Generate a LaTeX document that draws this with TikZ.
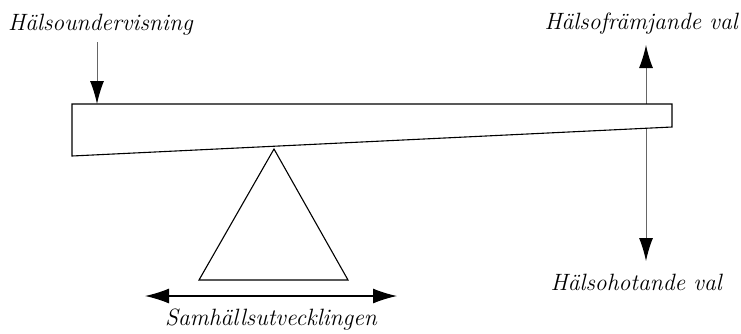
\documentclass[tikz,border=0pt]{standalone}
\usetikzlibrary{arrows.meta}
\begin{document}
\begin{tikzpicture}[x=1pt,y=-1pt,
  lbl/.style={font=\fontsize{23.6}{28}\selectfont\itshape, inner sep=0pt},
  garrow/.style={draw=black!60, line width=1pt, -{Latex[length=23pt,width=14pt,black]}},
  barrow/.style={draw=black, line width=1.2pt, {Latex[length=24pt,width=15pt]}-{Latex[length=24pt,width=15pt]}},
  outline/.style={draw=black, line width=1.1pt, fill=white}]
\useasboundingbox (0,0) rectangle (741,333);
% text labels
\node[lbl, anchor=base west] (teach) at (8,30) {Hälsoundervisning};
\node[lbl, anchor=base east] (good) at (738,29) {Hälsofrämjande val};
\node[lbl, anchor=base east] (bad) at (722,290) {Hälsohotande val};
\node[lbl, anchor=base] (soc) at (271,325) {Samhällsutvecklingen};
% arrow endpoints
\coordinate (tstart) at (97,42);
\coordinate (tend) at (97,104);
\coordinate (gstart) at (646,127);
\coordinate (gend) at (646,45);
\coordinate (bstart) at (646,104);
\coordinate (bend) at (646,261);
\coordinate (sl) at (145,296);
\coordinate (sr) at (397,296);
% vertical arrows (behind the beam)
\draw[garrow] (gstart) -- (gend);
\draw[garrow] (bstart) -- (bend);
% beam
\draw[outline] (72,104) coordinate (b1) -- (672,104) coordinate (b2) -- (672,127) coordinate (b3) -- (72,156) coordinate (b4) -- cycle;
% fulcrum
\draw[outline] (274,149) coordinate (apex) -- (348,280) coordinate (br) -- (199,280) coordinate (bl) -- cycle;
% teaching arrow
\draw[garrow] (tstart) -- (tend);
% societal arrow
\draw[barrow] (sl) -- (sr);
\end{tikzpicture}
\end{document}
